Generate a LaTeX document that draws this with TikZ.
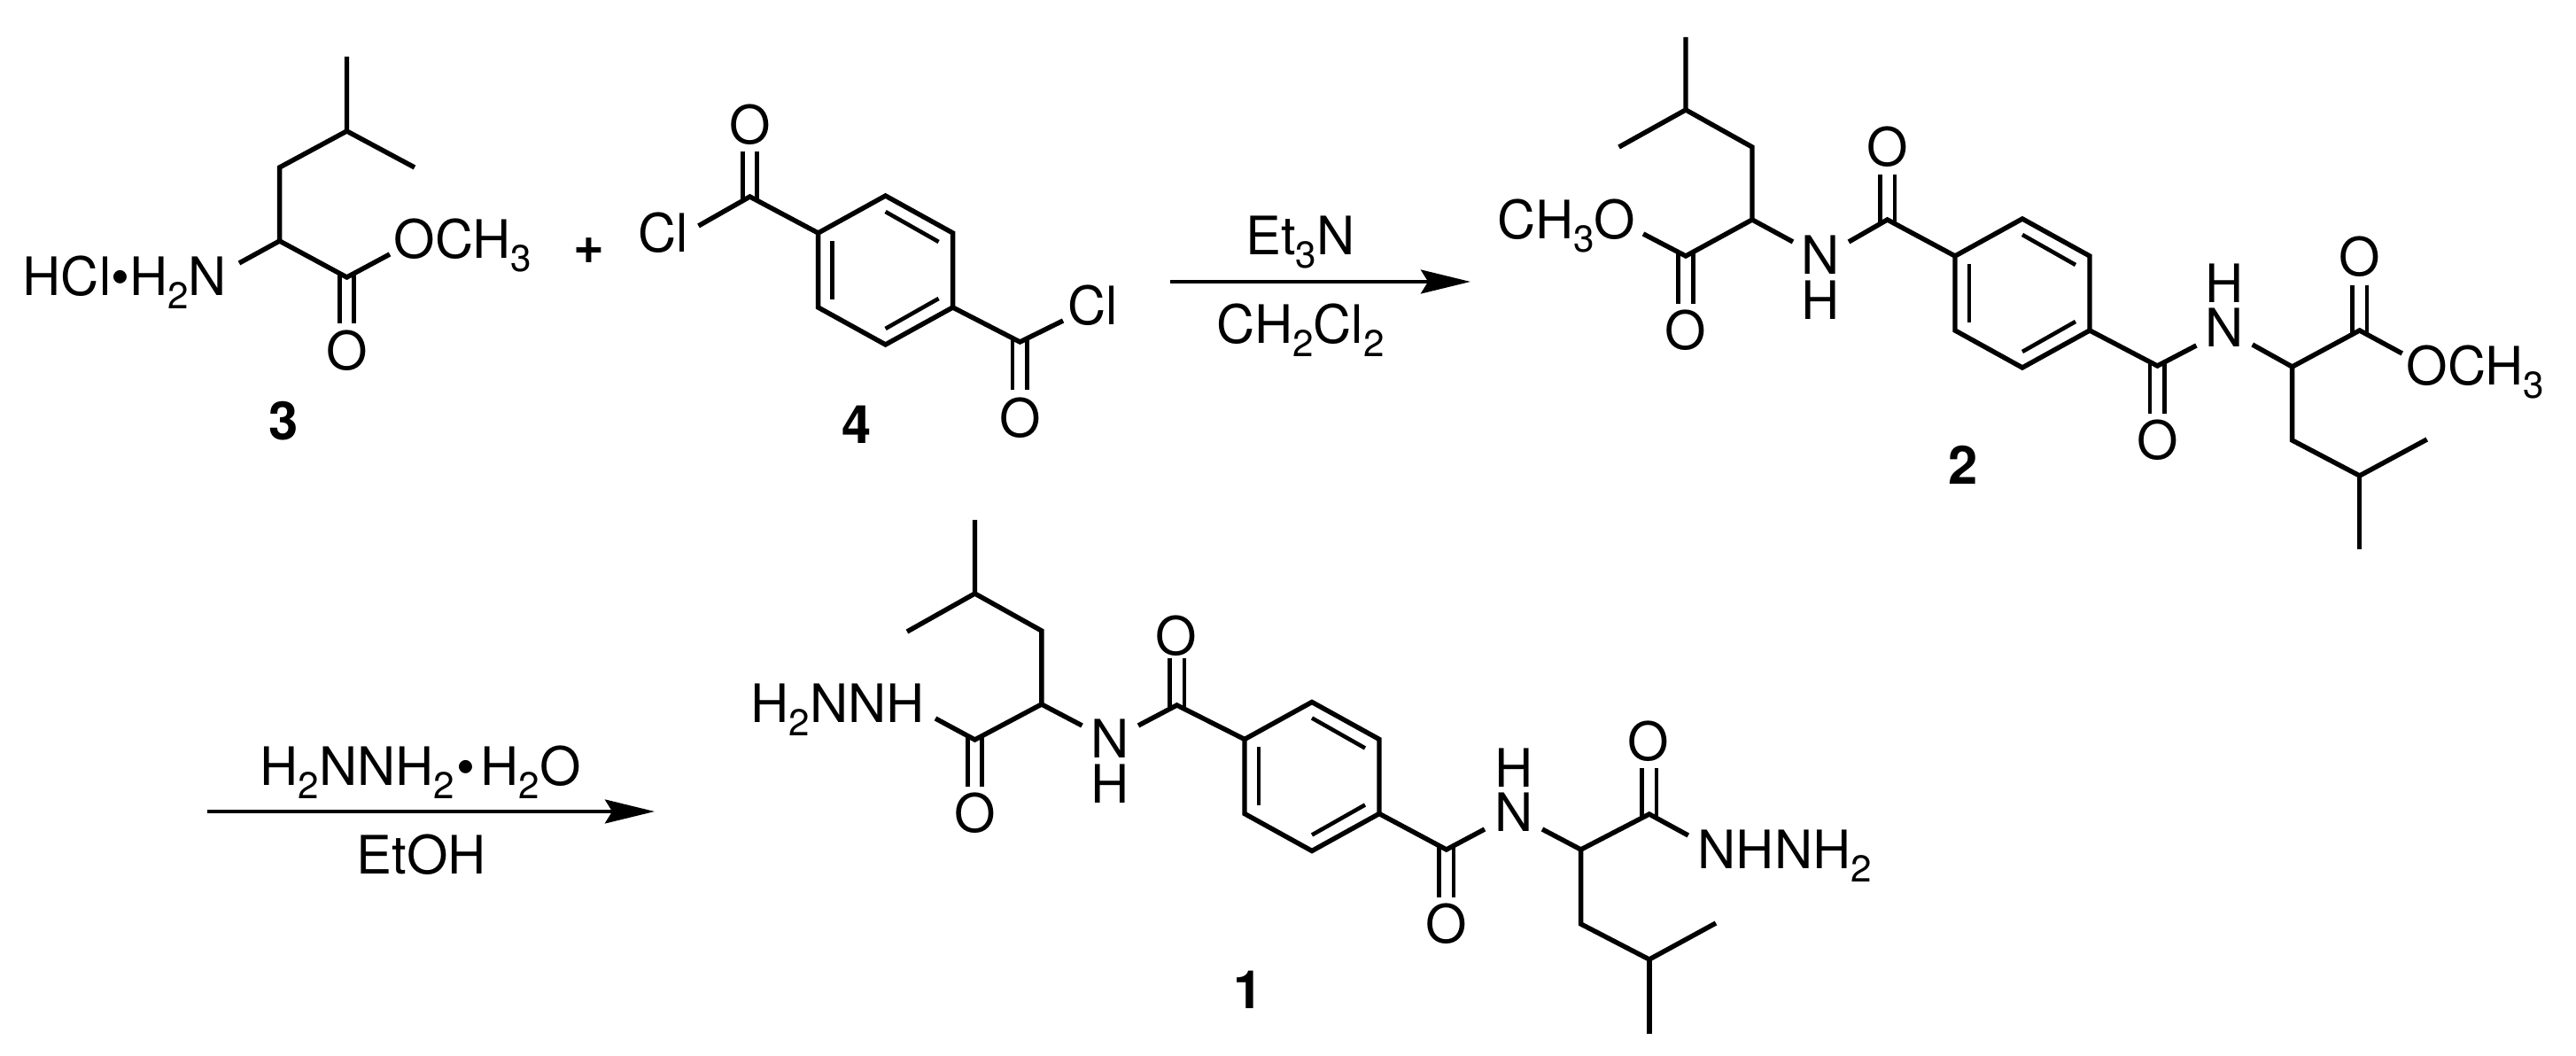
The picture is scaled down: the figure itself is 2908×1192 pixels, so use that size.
\documentclass[tikz,border=0pt]{standalone}
\usepackage{fontspec}
\setmainfont{TeX Gyre Heros}
\usetikzlibrary{positioning,arrows.meta}
\tikzstyle{atom}=[inner sep=0pt, anchor=base west, font=\fontsize{17}{17}\selectfont]
\tikzstyle{oxo}=[inner sep=0pt, anchor=center, font=\fontsize{17}{17}\selectfont]
\tikzstyle{compound}=[inner sep=0pt, anchor=center, font=\fontsize{17}{17}\selectfont\bfseries]
\tikzstyle{bond}=[line width=1.55pt, line join=miter]
\tikzstyle{inner}=[line width=1.3pt]
\tikzstyle{carbonyl}=[line width=1.3pt, double, double distance=3.4pt, shorten <=-1.3pt]
\tikzstyle{reaction}=[line width=1.4pt, -{Stealth[length=15.9pt, width=7.6pt, inset=2.3pt]}]
\newcommand{\lowr}[1]{\raisebox{-4pt}{\fontsize{12}{12}\selectfont #1}}
\newcommand{\benzene}[3]{
  \coordinate (#1a) at (#2-76,#3-42);
  \coordinate (#1b) at (#2,#3-84);
  \coordinate (#1c) at (#2+76,#3-42);
  \coordinate (#1d) at (#2+76,#3+42);
  \coordinate (#1e) at (#2,#3+84);
  \coordinate (#1f) at (#2-76,#3+42);
  \coordinate (#1p) at (#2-60,#3-33);
  \coordinate (#1q) at (#2-60,#3+33);
  \coordinate (#1r) at (#2,#3-66);
  \coordinate (#1s) at (#2+60,#3-32);
  \coordinate (#1t) at (#2+60,#3+32);
  \coordinate (#1u) at (#2,#3+66);
  \draw[bond] (#1a) -- (#1b) -- (#1c) -- (#1d) -- (#1e) -- (#1f) -- cycle;
  \draw[inner] (#1p) -- (#1q);
  \draw[inner] (#1r) -- (#1s);
  \draw[inner] (#1t) -- (#1u);
}
\begin{document}
\begin{tikzpicture}[x=0.01cm, y=-0.01cm]
  \useasboundingbox (0,0) rectangle (2908,1192);

  \coordinate (MeTop3) at (391.5,64);
  \coordinate (Ch3) at (391.5,148);
  \coordinate (MeSide3) at (468,189);
  \coordinate (Ch23) at (315.6,189);
  \coordinate (Alpha3) at (315.6,272);
  \coordinate (Co3) at (391.5,313);
  \coordinate (NEnd3) at (270,297);
  \coordinate (OEnd3) at (440,287);
  \coordinate (OxoEnd3) at (391.5,365);
  \node (Amine) [atom] at (25,334) {HCl\textbullet H\lowr{2}N};
  \node (Ester3) [atom] at (444,292) {OCH\lowr{3}};
  \node (Oxo3) [oxo] at (391.5,396) {O};
  \node (Label3) [compound] at (320,475) {3};
  \node (Plus) [compound] at (665,283) {+};
  \draw[carbonyl] (Co3) -- (OxoEnd3);
  \draw[bond] (MeTop3) -- (Ch3) -- (MeSide3);
  \draw[bond] (Ch3) -- (Ch23) -- (Alpha3) -- (Co3) -- (OEnd3);
  \draw[bond] (Alpha3) -- (NEnd3);

  \coordinate (CoA4) at (846.5,222);
  \coordinate (ClEndA4) at (788.5,255);
  \coordinate (OxoEndA4) at (846.5,171);
  \coordinate (CoB4) at (1151.4,386);
  \coordinate (ClEndB4) at (1200,362);
  \coordinate (OxoEndB4) at (1151.4,440);
  \node (ClA4) [atom] at (720,285) {Cl};
  \node (ClB4) [atom] at (1205,367) {Cl};
  \node (OxoA4) [oxo] at (846.5,141) {O};
  \node (OxoB4) [oxo] at (1151.4,472) {O};
  \node (Label4) [compound] at (967.5,479) {4};
  \draw[carbonyl] (CoA4) -- (OxoEndA4);
  \draw[carbonyl] (CoB4) -- (OxoEndB4);
  \benzene{Ring4}{999.6}{305}
  \draw[bond] (ClEndA4) -- (CoA4) -- (Ring4a);
  \draw[bond] (Ring4d) -- (CoB4) -- (ClEndB4);

  \coordinate (ArrowStartA) at (1321,318);
  \coordinate (ArrowEndA) at (1660,318);
  \draw[reaction] (ArrowStartA) -- (ArrowEndA);
  \node (Base) [atom, anchor=base] at (1468,288) {Et\lowr{3}N};
  \node (Solvent) [atom, anchor=base] at (1468,388) {CH\lowr{2}Cl\lowr{2}};

  \coordinate (MeTop2) at (1903,42);
  \coordinate (Ch2) at (1903,124);
  \coordinate (MeSide2) at (1827.6,166);
  \coordinate (Ch22) at (1978,166);
  \coordinate (AlphaA2) at (1978,248);
  \coordinate (CoA2) at (1903,289);
  \coordinate (OEndA2) at (1855,264);
  \coordinate (OxoEndA2) at (1903,343);
  \coordinate (NEndA2) at (2024,273);
  \coordinate (NEndB2) at (2087,273);
  \coordinate (AmideA2) at (2130.6,248);
  \coordinate (OxoEndB2) at (2130.6,197);
  \node (EsterA2) [atom] at (1690,270) {CH\lowr{3}O};
  \node (OxoA2) [oxo] at (1902.4,373) {O};
  \node (NA2) [atom, anchor=base] at (2055,310) {N};
  \node (HA2) [atom, below=1.7pt of NA2] {H};
  \node (OxoB2) [oxo] at (2130.6,166) {O};
  \draw[carbonyl] (CoA2) -- (OxoEndA2);
  \draw[carbonyl] (AmideA2) -- (OxoEndB2);
  \benzene{Ring2}{2283}{331}
  \draw[bond] (MeTop2) -- (Ch2) -- (MeSide2);
  \draw[bond] (Ch2) -- (Ch22) -- (AlphaA2) -- (CoA2) -- (OEndA2);
  \draw[bond] (AlphaA2) -- (NEndA2);
  \draw[bond] (NEndB2) -- (AmideA2) -- (Ring2a);

  \coordinate (AmideB2) at (2435.4,413);
  \coordinate (NEndC2) at (2479.4,390);
  \coordinate (OxoEndC2) at (2435.4,467);
  \coordinate (NEndD2) at (2542.7,389);
  \coordinate (AlphaB2) at (2587.6,414);
  \coordinate (CoB2) at (2663.7,373);
  \coordinate (OxoEndD2) at (2663.7,322);
  \coordinate (OEndB2) at (2711.7,399);
  \coordinate (Ch2B2) at (2587.6,497);
  \coordinate (ChB2) at (2663.7,537);
  \coordinate (MeSideB2) at (2739.7,496);
  \coordinate (MeTopB2) at (2663.7,620);
  \node (EsterB2) [atom] at (2716,435) {OCH\lowr{3}};
  \node (NB2) [atom, anchor=base] at (2511.5,392) {N};
  \node (HB2) [atom, above=1.7pt of NB2] {H};
  \node (OxoC2) [oxo] at (2435.4,497) {O};
  \node (OxoD2) [oxo] at (2663.7,290) {O};
  \node (Label2) [compound] at (2216,525) {2};
  \draw[carbonyl] (AmideB2) -- (OxoEndC2);
  \draw[carbonyl] (CoB2) -- (OxoEndD2);
  \draw[bond] (Ring2d) -- (AmideB2) -- (NEndC2);
  \draw[bond] (NEndD2) -- (AlphaB2) -- (CoB2) -- (OEndB2);
  \draw[bond] (AlphaB2) -- (Ch2B2) -- (ChB2) -- (MeSideB2);
  \draw[bond] (ChB2) -- (MeTopB2);

  \coordinate (ArrowStartB) at (234,916);
  \coordinate (ArrowEndB) at (739,916);
  \draw[reaction] (ArrowStartB) -- (ArrowEndB);
  \node (Hydrazine) [atom] at (293,887) {H\lowr{2}NNH\lowr{2}\kern0.6pt\textbullet\kern1.8pt H\lowr{2}O};
  \node (Ethanol) [atom] at (402,987) {EtOH};

  \coordinate (MeTop1) at (1100.5,587);
  \coordinate (Ch1) at (1100.5,670);
  \coordinate (MeSide1) at (1024,713);
  \coordinate (Ch21) at (1175.8,712);
  \coordinate (AlphaA1) at (1175.8,795);
  \coordinate (CoA1) at (1100.5,835);
  \coordinate (NEndA1) at (1056,811);
  \coordinate (OxoEndA1) at (1100.5,888);
  \coordinate (NEndB1) at (1221.5,819);
  \coordinate (NEndC1) at (1285,819);
  \coordinate (AmideA1) at (1328.6,796);
  \coordinate (OxoEndB1) at (1328.6,743);
  \node (HydrazideA) [atom] at (847,816) {H\lowr{2}NNH};
  \node (OxoA1) [oxo] at (1100.5,918) {O};
  \node (NA1) [atom, anchor=base] at (1253.3,856) {N};
  \node (HA1) [atom, below=1.7pt of NA1] {H};
  \node (OxoB1) [oxo] at (1328,718) {O};
  \draw[carbonyl] (CoA1) -- (OxoEndA1);
  \draw[carbonyl] (AmideA1) -- (OxoEndB1);
  \benzene{Ring1}{1481}{876.5}
  \draw[bond] (MeTop1) -- (Ch1) -- (MeSide1);
  \draw[bond] (Ch1) -- (Ch21) -- (AlphaA1) -- (CoA1) -- (NEndA1);
  \draw[bond] (AlphaA1) -- (NEndB1);
  \draw[bond] (NEndC1) -- (AmideA1) -- (Ring1a);

  \coordinate (AmideB1) at (1632.8,959);
  \coordinate (NEndD1) at (1676,936);
  \coordinate (OxoEndC1) at (1632.8,1013);
  \coordinate (NEndE1) at (1741,936);
  \coordinate (AlphaB1) at (1784.6,959);
  \coordinate (CoB1) at (1861.8,919);
  \coordinate (OxoEndD1) at (1861.8,867);
  \coordinate (NEndF1) at (1905.8,943);
  \coordinate (Ch2B1) at (1784.6,1043);
  \coordinate (ChB1) at (1861.8,1083);
  \coordinate (MeSideB1) at (1937,1042);
  \coordinate (MeTopB1) at (1861.8,1167);
  \node (HydrazideB) [atom] at (1916,981) {NHNH\lowr{2}};
  \node (NB1) [atom, anchor=base] at (1709.3,939) {N};
  \node (HB1) [atom, above=1.7pt of NB1] {H};
  \node (OxoC1) [oxo] at (1632.8,1043) {O};
  \node (OxoD1) [oxo] at (1861,837) {O};
  \node (Label1) [compound] at (1409.6,1117) {1};
  \draw[carbonyl] (AmideB1) -- (OxoEndC1);
  \draw[carbonyl] (CoB1) -- (OxoEndD1);
  \draw[bond] (Ring1d) -- (AmideB1) -- (NEndD1);
  \draw[bond] (NEndE1) -- (AlphaB1) -- (CoB1) -- (NEndF1);
  \draw[bond] (AlphaB1) -- (Ch2B1) -- (ChB1) -- (MeSideB1);
  \draw[bond] (ChB1) -- (MeTopB1);
\end{tikzpicture}
\end{document}
